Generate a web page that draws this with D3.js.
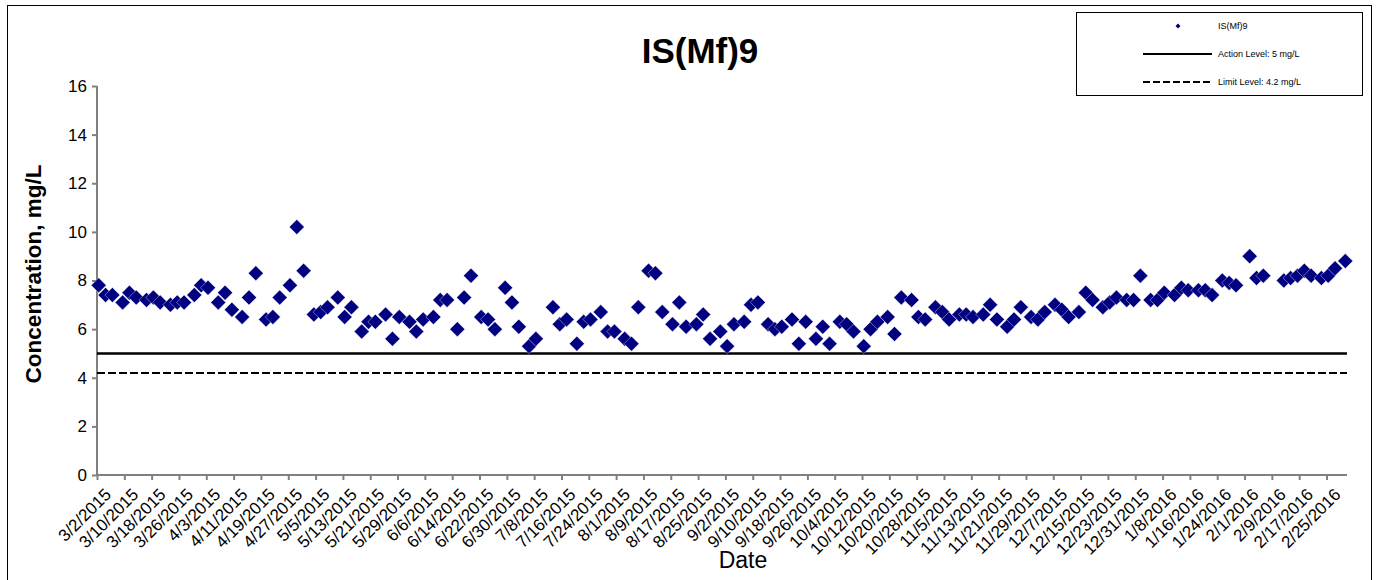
<!DOCTYPE html>
<html>
<head>
<meta charset="utf-8">
<title>IS(Mf)9</title>
<script src="https://cdnjs.cloudflare.com/ajax/libs/d3/7.8.5/d3.min.js"></script>
<style>
  body { margin: 0; background: #fff; }
  svg { font-family: Arial, "Liberation Sans", sans-serif; }
</style>
</head>
<body>
<script>
// sample dates (M/D/YYYY) and measured concentrations, mg/L
var dates = ["3/2/2015","3/4/2015","3/6/2015","3/9/2015","3/11/2015","3/13/2015","3/16/2015","3/18/2015","3/20/2015","3/23/2015","3/25/2015","3/27/2015","3/30/2015",
  "4/1/2015","4/3/2015","4/6/2015","4/8/2015","4/10/2015","4/13/2015","4/15/2015","4/17/2015","4/20/2015","4/22/2015","4/24/2015","4/27/2015","4/29/2015",
  "5/1/2015","5/4/2015","5/6/2015","5/8/2015","5/11/2015","5/13/2015","5/15/2015","5/18/2015","5/20/2015","5/22/2015","5/25/2015","5/27/2015","5/29/2015",
  "6/1/2015","6/3/2015","6/5/2015","6/8/2015","6/10/2015","6/12/2015","6/15/2015","6/17/2015","6/19/2015","6/22/2015","6/24/2015","6/26/2015","6/29/2015",
  "7/1/2015","7/3/2015","7/6/2015","7/8/2015","7/13/2015","7/15/2015","7/17/2015","7/20/2015","7/22/2015","7/24/2015","7/27/2015","7/29/2015","7/31/2015",
  "8/3/2015","8/5/2015","8/7/2015","8/10/2015","8/12/2015","8/14/2015","8/17/2015","8/19/2015","8/21/2015","8/24/2015","8/26/2015","8/28/2015","8/31/2015",
  "9/2/2015","9/4/2015","9/7/2015","9/9/2015","9/11/2015","9/14/2015","9/16/2015","9/18/2015","9/21/2015","9/23/2015","9/25/2015","9/28/2015","9/30/2015",
  "10/2/2015","10/5/2015","10/7/2015","10/9/2015","10/12/2015","10/14/2015","10/16/2015","10/19/2015","10/21/2015","10/23/2015","10/26/2015","10/28/2015","10/30/2015",
  "11/2/2015","11/4/2015","11/6/2015","11/9/2015","11/11/2015","11/13/2015","11/16/2015","11/18/2015","11/20/2015","11/23/2015","11/25/2015","11/27/2015","11/30/2015",
  "12/2/2015","12/4/2015","12/7/2015","12/9/2015","12/11/2015","12/14/2015","12/16/2015","12/18/2015","12/21/2015","12/23/2015","12/25/2015","12/28/2015","12/30/2015",
  "1/1/2016","1/4/2016","1/6/2016","1/8/2016","1/11/2016","1/13/2016","1/15/2016","1/18/2016","1/20/2016","1/22/2016","1/25/2016","1/27/2016","1/29/2016",
  "2/2/2016","2/4/2016","2/6/2016","2/12/2016","2/14/2016","2/16/2016","2/18/2016","2/20/2016","2/23/2016","2/25/2016","2/27/2016","3/1/2016"];

var values = [7.8,7.4,7.4,7.1,7.5,7.3,7.2,7.3,7.1,7.0,7.1,7.1,7.4,7.8,7.7,7.1,7.5,6.8,6.5,7.3,8.3,6.4,6.5,7.3,7.8,10.2,8.4,
  6.6,6.7,6.9,7.3,6.5,6.9,5.9,6.3,6.3,6.6,5.6,6.5,
  6.3,5.9,6.4,6.5,7.2,7.2,6.0,7.3,8.2,6.5,6.4,6.0,7.7,
  7.1,6.1,5.3,5.6,6.9,6.2,6.4,5.4,6.3,6.4,6.7,5.9,5.9,
  5.6,5.4,6.9,8.4,8.3,6.7,6.2,7.1,6.1,6.2,6.6,5.6,5.9,
  5.3,6.2,6.3,7.0,7.1,6.2,6.0,6.1,6.4,5.4,6.3,5.6,6.1,
  5.4,6.3,6.2,5.9,5.3,6.0,6.3,6.5,5.8,7.3,7.2,6.5,6.4,
  6.9,6.7,6.4,6.6,6.6,6.5,6.6,7.0,6.4,6.1,6.4,6.9,6.5,
  6.4,6.7,7.0,6.8,6.5,6.7,7.5,7.2,6.9,7.1,7.3,7.2,7.2,
  8.2,7.2,7.2,7.5,7.4,7.7,7.6,7.6,7.6,7.4,8.0,7.9,7.8,
  9.0,8.1,8.2,8.0,8.1,8.2,8.4,8.2,8.1,8.2,8.5,8.8];

var actionLevel = 5;
var limitLevel = 4.2;
var yTicks = [0, 2, 4, 6, 8, 10, 12, 14, 16];
var legendText = ["IS(Mf)9", "Action Level: 5 mg/L", "Limit Level: 4.2 mg/L"];

var width = 1377, height = 580;
var parse = d3.timeParse("%m/%d/%Y");
var fmt = d3.timeFormat("%-m/%-d/%Y");

var start = parse("3/2/2015"), end = parse("3/2/2016");

var x = d3.scaleTime().domain([start, end]).range([97, 1347]);
var y = d3.scaleLinear().domain([0, 16]).range([475, 86]);

var svg = d3.select("body").append("svg")
  .attr("width", width)
  .attr("height", height);

// outer chart border
svg.append("rect")
  .attr("x", 7.5).attr("y", 5.5)
  .attr("width", 1364).attr("height", 600)
  .attr("fill", "none").attr("stroke", "#000");

// title
svg.append("text")
  .attr("x", 700).attr("y", 63)
  .attr("text-anchor", "middle")
  .style("font-size", "35px").style("font-weight", "bold")
  .text("IS(Mf)9");

// y axis
var yAxis = svg.append("g")
  .attr("transform", "translate(97,0)")
  .call(d3.axisLeft(y).tickValues(yTicks).tickSize(5).tickPadding(5));
yAxis.selectAll("text").style("font-size", "17px").attr("fill", "#000");

// x axis, one tick every 8 days
var xTicks = d3.timeDay.range(start, end, 8);
var xAxis = svg.append("g")
  .attr("transform", "translate(0,475)")
  .call(d3.axisBottom(x).tickValues(xTicks).tickFormat(fmt).tickSize(5));
xAxis.selectAll("text")
  .style("font-size", "17px").attr("fill", "#000")
  .attr("text-anchor", "end")
  .attr("transform", "translate(5,11) rotate(-45)")
  .attr("dy", "0.8em").attr("y", 0).attr("x", 0);

svg.selectAll(".domain, .tick line").attr("stroke", "#808080").attr("stroke-width", 2);
xAxis.select(".domain").attr("d", "M97,0H1347");
yAxis.select(".domain").attr("d", "M0,86V475");

// axis titles
svg.append("text")
  .attr("transform", "translate(41,274) rotate(-90)")
  .attr("text-anchor", "middle")
  .style("font-size", "22.5px").style("font-weight", "bold")
  .text("Concentration, mg/L");

svg.append("text")
  .attr("x", 743).attr("y", 568)
  .attr("text-anchor", "middle")
  .style("font-size", "23px")
  .text("Date");

// reference levels
svg.append("line")
  .attr("x1", x(start)).attr("x2", x(end))
  .attr("y1", y(actionLevel)).attr("y2", y(actionLevel))
  .attr("stroke", "#000").attr("stroke-width", 2.5);

svg.append("line")
  .attr("x1", x(start)).attr("x2", x(end))
  .attr("y1", y(limitLevel)).attr("y2", y(limitLevel))
  .attr("stroke", "#000").attr("stroke-width", 2)
  .attr("stroke-dasharray", "8,3");

// diamond markers, placed mid-day like the spreadsheet date axis
function diamond(r) {
  return "M0," + (-r) + "L" + r + ",0L0," + r + "L" + (-r) + ",0Z";
}

svg.append("g").selectAll("path")
  .data(dates.map(function(d, i) { return { date: parse(d), value: values[i] }; }))
  .enter()
  .append("path")
  .attr("d", diamond(7.5))
  .attr("transform", function(d) {
    return "translate(" + x(d3.timeHour.offset(d.date, 12)) + "," + y(d.value) + ")";
  })
  .attr("fill", "#000080")
  .attr("stroke", "#fff")
  .attr("stroke-width", 0.4);

// legend
var legend = svg.append("g");
legend.append("rect")
  .attr("x", 1076.5).attr("y", 12.5)
  .attr("width", 286).attr("height", 83)
  .attr("fill", "#fff").attr("stroke", "#000");

legend.append("path")
  .attr("d", diamond(2.5))
  .attr("transform", "translate(1178,26)")
  .attr("fill", "#000080");

legend.append("line")
  .attr("x1", 1143).attr("x2", 1212).attr("y1", 54).attr("y2", 54)
  .attr("stroke", "#000").attr("stroke-width", 2);

legend.append("line")
  .attr("x1", 1143).attr("x2", 1212).attr("y1", 82).attr("y2", 82)
  .attr("stroke", "#000").attr("stroke-width", 2)
  .attr("stroke-dasharray", "7,3");

legend.selectAll("text.lg")
  .data(legendText)
  .enter()
  .append("text")
  .attr("class", "lg")
  .attr("x", 1218)
  .attr("y", function(d, i) { return 26 + i * 28; })
  .attr("dy", "0.35em")
  .style("font-size", "9px")
  .text(function(d) { return d; });
</script>
</body>
</html>
